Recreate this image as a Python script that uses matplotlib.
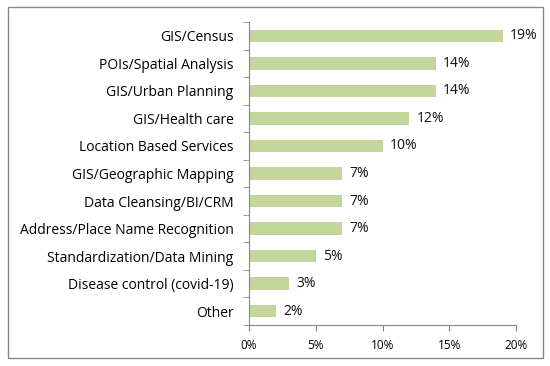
import matplotlib.pyplot as plt
import numpy as np
from matplotlib.patches import Rectangle

categories = ['GIS/Census', 'POIs/Spatial Analysis', 'GIS/Urban Planning', 'GIS/Health care',
              'Location Based Services', 'GIS/Geographic Mapping', 'Data Cleansing/BI/CRM',
              'Address/Place Name Recognition', 'Standardization/Data Mining',
              'Disease control (covid-19)', 'Other']
values = [19, 14, 14, 12, 10, 7, 7, 7, 5, 3, 2]
xticks = [0, 5, 10, 15, 20]

plt.rcParams['font.family'] = ['Open Sans', 'DejaVu Sans']

fig = plt.figure(figsize=(5.5, 3.66), dpi=100)
ax = fig.add_axes([249/550, 1 - 325/366, (516 - 249)/550, (325 - 22)/366])

y = np.arange(len(categories))
ax.barh(y, values, height=0.45, color='#c3d69b')
for yi, v in zip(y, values):
    ax.text(v + 0.55, yi, f'{v}%', va='center', ha='left', fontsize=10, color='#111111')

ax.set_ylim(len(categories) - 0.5, -0.5)
ax.set_xlim(0, 20)
ax.set_xticks(xticks)
ax.set_xticklabels([f'{t}%' for t in xticks], fontsize=8.5)
ax.set_yticks(y)
ax.set_yticklabels(categories, fontsize=10)
ax.set_yticks(np.arange(len(categories) + 1) - 0.5, minor=True)
ax.tick_params(axis='y', which='major', length=0, pad=11)
ax.tick_params(axis='y', which='minor', length=4, color='#868686', direction='out')
ax.tick_params(axis='x', length=4, color='#868686', direction='out', pad=6)

for s in ['top', 'right']:
    ax.spines[s].set_visible(False)
for s in ['left', 'bottom']:
    ax.spines[s].set_color('#868686')

fig.patches.append(Rectangle((8/550, 1 - 358/366), (543 - 8)/550, (358 - 7)/366,
                             transform=fig.transFigure, fill=False, edgecolor='#868686', lw=1))

fig.savefig('out.png', dpi=100)
